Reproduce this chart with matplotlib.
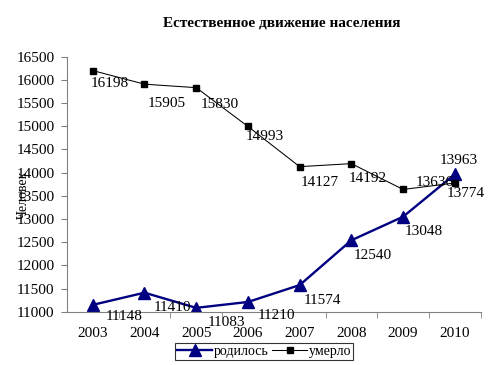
import matplotlib.pyplot as plt

plt.rcParams["font.family"] = ["Liberation Serif", "DejaVu Serif"]

years = ["2003", "2004", "2005", "2006", "2007", "2008", "2009", "2010"]
rodilos = [11148, 11410, 11083, 11210, 11574, 12540, 13048, 13963]
umerlo = [16198, 15905, 15830, 14993, 14127, 14192, 13636, 13774]

# смещения подписей данных: (вправо, вниз) в пикселях от точки до левого края текста
off_rod = [(13, 12), (9, 15), (11, 15), (10, 14), (4, 15), (2, 15), (2, 15), (-15, -14)]
off_um = [(-2, 13), (3, 19), (4, 17), (-2, 10), (1, 16), (-3, 15), (13, -7), (-8, 10)]

fig = plt.figure(figsize=(4.92, 3.65), dpi=100)
ax = fig.add_axes([0.136, 0.146, 0.841, 0.699])

x = list(range(len(years)))
ax.plot(x, rodilos, color="#000080", lw=1.7, marker="^", ms=8, label="родилось")
ax.plot(x, umerlo, color="black", lw=0.75, marker="s", ms=5, label="умерло")

px = 0.72
for i in x:
    dx, dy = off_rod[i]
    ax.annotate(str(rodilos[i]), (i, rodilos[i]), xytext=(dx * px, -dy * px),
                textcoords="offset points", ha="left", va="center", fontsize=11)
    dx, dy = off_um[i]
    ax.annotate(str(umerlo[i]), (i, umerlo[i]), xytext=(dx * px, -dy * px),
                textcoords="offset points", ha="left", va="center", fontsize=11)

ax.set_xlim(-0.5, 7.5)
ax.set_ylim(11000, 16500)
ax.set_yticks(range(11000, 16501, 500))
ax.set_xticks(x)
ax.set_xticklabels(years)
ax.set_xticks([i + 0.5 for i in x], minor=True)
ax.tick_params(axis="x", which="major", length=0, pad=11, labelsize=11)
ax.tick_params(axis="x", which="minor", length=4, direction="out", color="#808080")
ax.tick_params(axis="y", length=4, direction="out", color="#808080", labelsize=11, pad=5)
for s in ["top", "right"]:
    ax.spines[s].set_visible(False)
for s in ["left", "bottom"]:
    ax.spines[s].set_color("#808080")

fig.text(0.573, 0.937, "Естественное движение населения", ha="center", va="center",
         fontsize=11, fontweight="bold")
fig.text(0.047, 0.466, "Человек", rotation=90, ha="center", va="center", fontsize=10)

leg = ax.legend(loc="center", ncol=2, frameon=True, fancybox=False,
                fontsize=10, handlelength=2.5, handletextpad=0.1, columnspacing=0.3,
                borderpad=0.15, borderaxespad=0)
leg.set_bbox_to_anchor((0.537, 0.036), transform=fig.transFigure)
leg.get_frame().set_edgecolor("black")
leg.get_frame().set_linewidth(0.8)

fig.savefig("out.png", dpi=100)
